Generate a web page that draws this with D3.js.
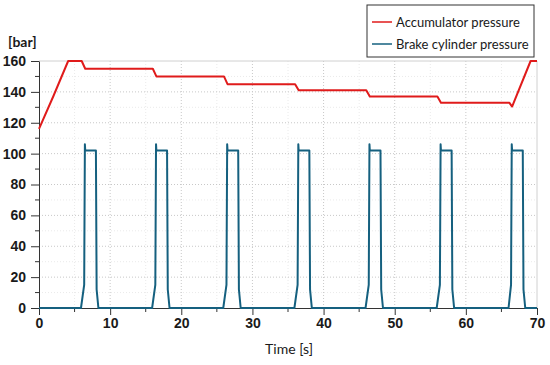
<!DOCTYPE html>
<html>
<head>
<meta charset="utf-8">
<script src="https://cdn.jsdelivr.net/npm/d3@7"></script>
<style>
  body { margin: 0; background: #fff; }
  svg { display: block; font-family: Lato, "Open Sans", sans-serif; }
  .tick text { font-weight: bold; font-size: 14px; fill: #1a1a1a; }
  .axis path, .axis line { stroke: #333; }
</style>
</head>
<body>
<div id="chart"></div>
<script>
// accumulator pressure [bar] over time [s]
const accTime  = [0, 2, 4.1, 6.0, 6.5, 16.0, 16.5, 26.0, 26.5, 36.0, 36.5, 46.0, 46.5, 56.0, 56.5, 66.1, 66.5, 69.1, 70];
const accValue = [116, 137, 160, 160, 155, 155, 150, 150, 145, 145, 141, 141, 137, 137, 133, 133, 130.5, 160, 160];

// brake cylinder pressure [bar] over time [s]
const brakeTime = [
  0,
  5.9, 6.35, 6.45, 6.5, 8.0, 8.1, 8.35,
  15.9, 16.35, 16.45, 16.5, 18.0, 18.1, 18.35,
  25.9, 26.35, 26.45, 26.5, 28.0, 28.1, 28.35,
  35.9, 36.35, 36.45, 36.5, 38.0, 38.1, 38.35,
  45.9, 46.35, 46.45, 46.5, 48.0, 48.1, 48.35,
  55.9, 56.35, 56.45, 56.5, 58.0, 58.1, 58.35,
  66.0, 66.35, 66.45, 66.5, 68.0, 68.1, 68.35,
  70
];
const brakeValue = [
  0,
  0, 15, 106, 102, 102, 12, 0,
  0, 15, 106, 102, 102, 12, 0,
  0, 15, 106, 102, 102, 12, 0,
  0, 15, 106, 102, 102, 12, 0,
  0, 15, 106, 102, 102, 12, 0,
  0, 15, 106, 102, 102, 12, 0,
  0, 15, 106, 102, 102, 12, 0,
  0
];

const xTicks = [0, 10, 20, 30, 40, 50, 60, 70];
const yTicks = [0, 20, 40, 60, 80, 100, 120, 140, 160];
const seriesNames = ['Accumulator pressure', 'Brake cylinder pressure'];
const colors = ['#e01b1b', '#15607f'];

const width = 550, height = 365;
const margin = { top: 61, right: 13, bottom: 57, left: 39 };
const innerWidth = width - margin.left - margin.right;
const innerHeight = height - margin.top - margin.bottom;

const svg = d3.select('#chart')
  .append('svg')
    .attr('width', width)
    .attr('height', height);

const g = svg.append('g')
  .attr('transform', `translate(${margin.left}, ${margin.top})`);

const scaleX = d3.scaleLinear().domain([0, 70]).range([0, innerWidth]);
const scaleY = d3.scaleLinear().domain([0, 160]).range([innerHeight, 0]);

// minor grid
g.append('g')
  .selectAll('line')
  .data(d3.range(5, 70, 10))
  .join('line')
    .attr('x1', d => scaleX(d)).attr('x2', d => scaleX(d))
    .attr('y1', 0).attr('y2', innerHeight)
    .attr('stroke', '#eaeaea').attr('stroke-dasharray', '1,2');
g.append('g')
  .selectAll('line')
  .data(d3.range(10, 160, 20))
  .join('line')
    .attr('x1', 0).attr('x2', innerWidth)
    .attr('y1', d => scaleY(d)).attr('y2', d => scaleY(d))
    .attr('stroke', '#eaeaea').attr('stroke-dasharray', '1,2');

// major grid
g.append('g')
  .selectAll('line')
  .data(xTicks.slice(1, -1))
  .join('line')
    .attr('x1', d => scaleX(d)).attr('x2', d => scaleX(d))
    .attr('y1', 0).attr('y2', innerHeight)
    .attr('stroke', '#c8c8c8').attr('stroke-dasharray', '1,2');
g.append('g')
  .selectAll('line')
  .data(yTicks.slice(1, -1))
  .join('line')
    .attr('x1', 0).attr('x2', innerWidth)
    .attr('y1', d => scaleY(d)).attr('y2', d => scaleY(d))
    .attr('stroke', '#c8c8c8').attr('stroke-dasharray', '1,2');

// top and right frame
g.append('line')
  .attr('x1', 0).attr('x2', innerWidth).attr('y1', 0).attr('y2', 0)
  .attr('stroke', '#d0d0d0');
g.append('line')
  .attr('x1', innerWidth).attr('x2', innerWidth).attr('y1', 0).attr('y2', innerHeight)
  .attr('stroke', '#d0d0d0');

// axes
const xAxis = d3.axisBottom(scaleX).tickValues(xTicks).tickSize(7).tickPadding(3).tickSizeOuter(0);
const yAxis = d3.axisLeft(scaleY).tickValues(yTicks).tickSize(8).tickPadding(5).tickSizeOuter(0);

g.append('g')
  .attr('class', 'axis')
  .selectAll('line')
  .data(d3.range(5, 70, 10))
  .join('line')
    .attr('x1', d => scaleX(d)).attr('x2', d => scaleX(d))
    .attr('y1', innerHeight).attr('y2', innerHeight + 4)
    .attr('stroke', '#333');
g.append('g')
  .attr('class', 'axis')
  .selectAll('line')
  .data(d3.range(10, 160, 20))
  .join('line')
    .attr('x1', -4).attr('x2', 0)
    .attr('y1', d => scaleY(d)).attr('y2', d => scaleY(d))
    .attr('stroke', '#333');

g.append('g')
  .attr('class', 'axis')
  .attr('transform', `translate(0, ${innerHeight})`)
  .call(xAxis);

g.append('g')
  .attr('class', 'axis')
  .call(yAxis);

// lines
const line = d3.line()
  .x(d => scaleX(d[0]))
  .y(d => scaleY(d[1]));

g.append('path')
  .datum(brakeTime.map((t, i) => [t, brakeValue[i]]))
  .attr('fill', 'none')
  .attr('stroke', colors[1])
  .attr('stroke-width', 2)
  .attr('stroke-linejoin', 'round')
  .attr('d', line);

g.append('path')
  .datum(accTime.map((t, i) => [t, accValue[i]]))
  .attr('fill', 'none')
  .attr('stroke', colors[0])
  .attr('stroke-width', 2)
  .attr('stroke-linejoin', 'round')
  .attr('d', line);

// axis titles
svg.append('text')
  .attr('x', 8).attr('y', 47)
  .attr('font-weight', 'bold').attr('font-size', 14).attr('fill', '#1a1a1a')
  .text('[bar]');

svg.append('text')
  .attr('x', 289).attr('y', 354)
  .attr('text-anchor', 'middle')
  .attr('font-size', 14).attr('fill', '#1a1a1a')
  .text('Time [s]');

// legend
const legend = svg.append('g').attr('transform', 'translate(367, 5)');
legend.append('rect')
  .attr('width', 167).attr('height', 52)
  .attr('fill', '#fff').attr('stroke', '#333');

const item = legend.selectAll('.item')
  .data(seriesNames)
  .join('g')
    .attr('class', 'item')
    .attr('transform', (d, i) => `translate(0, ${17 + i * 22})`);

item.append('line')
  .attr('x1', 5).attr('x2', 25)
  .attr('stroke', (d, i) => colors[i])
  .attr('stroke-width', 1.5);

item.append('text')
  .attr('x', 29).attr('y', 5)
  .attr('font-size', 13).attr('fill', '#1a1a1a')
  .text(d => d);
</script>
</body>
</html>
